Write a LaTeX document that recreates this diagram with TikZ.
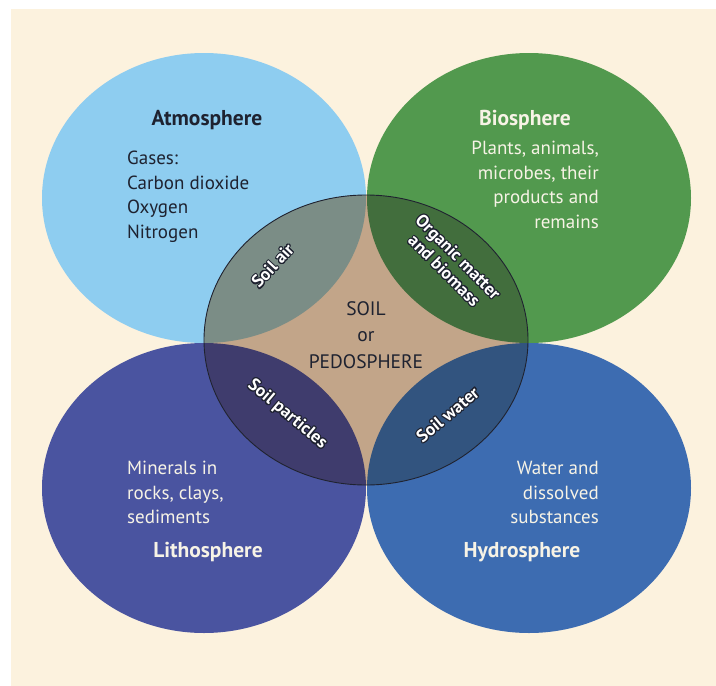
\documentclass[tikz,border=0pt]{standalone}
\usepackage{fontspec}
\setmainfont{PT Sans}
\usepackage{contour}
\contourlength{1.1pt}
\contournumber{12}
\usepackage{tikz}

\definecolor{cream}{HTML}{FCF2DE}
\definecolor{atmo}{HTML}{8ECDF0}
\definecolor{bio}{HTML}{52994E}
\definecolor{litho}{HTML}{4A54A0}
\definecolor{hydro}{HTML}{3D6CB1}
\definecolor{soil}{HTML}{C2A589}
\definecolor{soilair}{HTML}{7B8D86}
\definecolor{organic}{HTML}{426E3D}
\definecolor{particle}{HTML}{3F3C6D}
\definecolor{soilwater}{HTML}{32547F}
\definecolor{ink}{HTML}{1E2230}
\definecolor{paper}{HTML}{F7F3E6}

\tikzset{
  title/.style={font=\fontsize{21.5}{26}\selectfont\bfseries},
  body/.style={font=\fontsize{19}{24.5}\selectfont,inner sep=0pt},
  lens/.style={font=\fontsize{17.5}{19.5}\selectfont\bfseries,text=white,inner sep=0pt,align=center},
}

\begin{document}
\begin{tikzpicture}[x=1pt,y=-1pt]
  \useasboundingbox (0,0) rectangle (716,686);
  \fill[cream] (11,9) rectangle (716,686);
  % the four spheres
  \fill[atmo] (204,198) ellipse [x radius=162pt,y radius=145pt];
  \fill[bio] (529,198) ellipse [x radius=162pt,y radius=145pt];
  \fill[litho] (204,488) ellipse [x radius=162pt,y radius=145pt];
  \fill[hydro] (529,488) ellipse [x radius=162pt,y radius=145pt];
  % soil in the middle
  \fill[soil] (366,340) ellipse [x radius=162pt,y radius=145pt];
  \begin{scope}
    \clip (366,340) ellipse [x radius=162pt,y radius=145pt];
    \fill[soilair] (204,198) ellipse [x radius=162pt,y radius=145pt];
    \fill[organic] (529,198) ellipse [x radius=162pt,y radius=145pt];
    \fill[particle] (204,488) ellipse [x radius=162pt,y radius=145pt];
    \fill[soilwater] (529,488) ellipse [x radius=162pt,y radius=145pt];
  \end{scope}
  \draw[ink,line width=0.9pt] (366,340) ellipse [x radius=162pt,y radius=145pt];

  \node[title,text=ink] (atmoTitle) at (207,120) {Atmosphere};
  \node[body,text=ink,anchor=north west,align=left] (atmoBody) at (127,151) {Gases:\\Carbon dioxide\\Oxygen\\Nitrogen};
  \node[title,text=paper] (bioTitle) at (525,120) {Biosphere};
  \node[body,text=paper,anchor=north east,align=right] (bioBody) at (599,141) {Plants, animals,\\microbes, their\\products and\\remains};
  \node[body,text=paper,anchor=north west,align=left] (lithoBody) at (127,461) {Minerals in\\rocks, clays,\\sediments};
  \node[title,text=paper] (lithoTitle) at (208,552) {Lithosphere};
  \node[body,text=paper,anchor=north east,align=right] (hydroBody) at (599,461) {Water and\\dissolved\\substances};
  \node[title,text=paper] (hydroTitle) at (522,552) {Hydrosphere};

  \node[body,text=ink,align=center,font=\fontsize{19.5}{26.5}\selectfont] (soilText) at (366,335) {SOIL\\or\\PEDOSPHERE};

  \node[lens,rotate=47] (airLbl) at (273,266) {\contour{ink}{Soil air}};
  \node[lens,rotate=-45] (organicLbl) at (451,264) {\contour{ink}{Organic matter}\\\contour{ink}{and biomass}};
  \node[lens,rotate=-40] (particleLbl) at (287,415) {\contour{ink}{Soil particles}};
  \node[lens,rotate=40] (waterLbl) at (448,415) {\contour{ink}{Soil water}};
\end{tikzpicture}
\end{document}
